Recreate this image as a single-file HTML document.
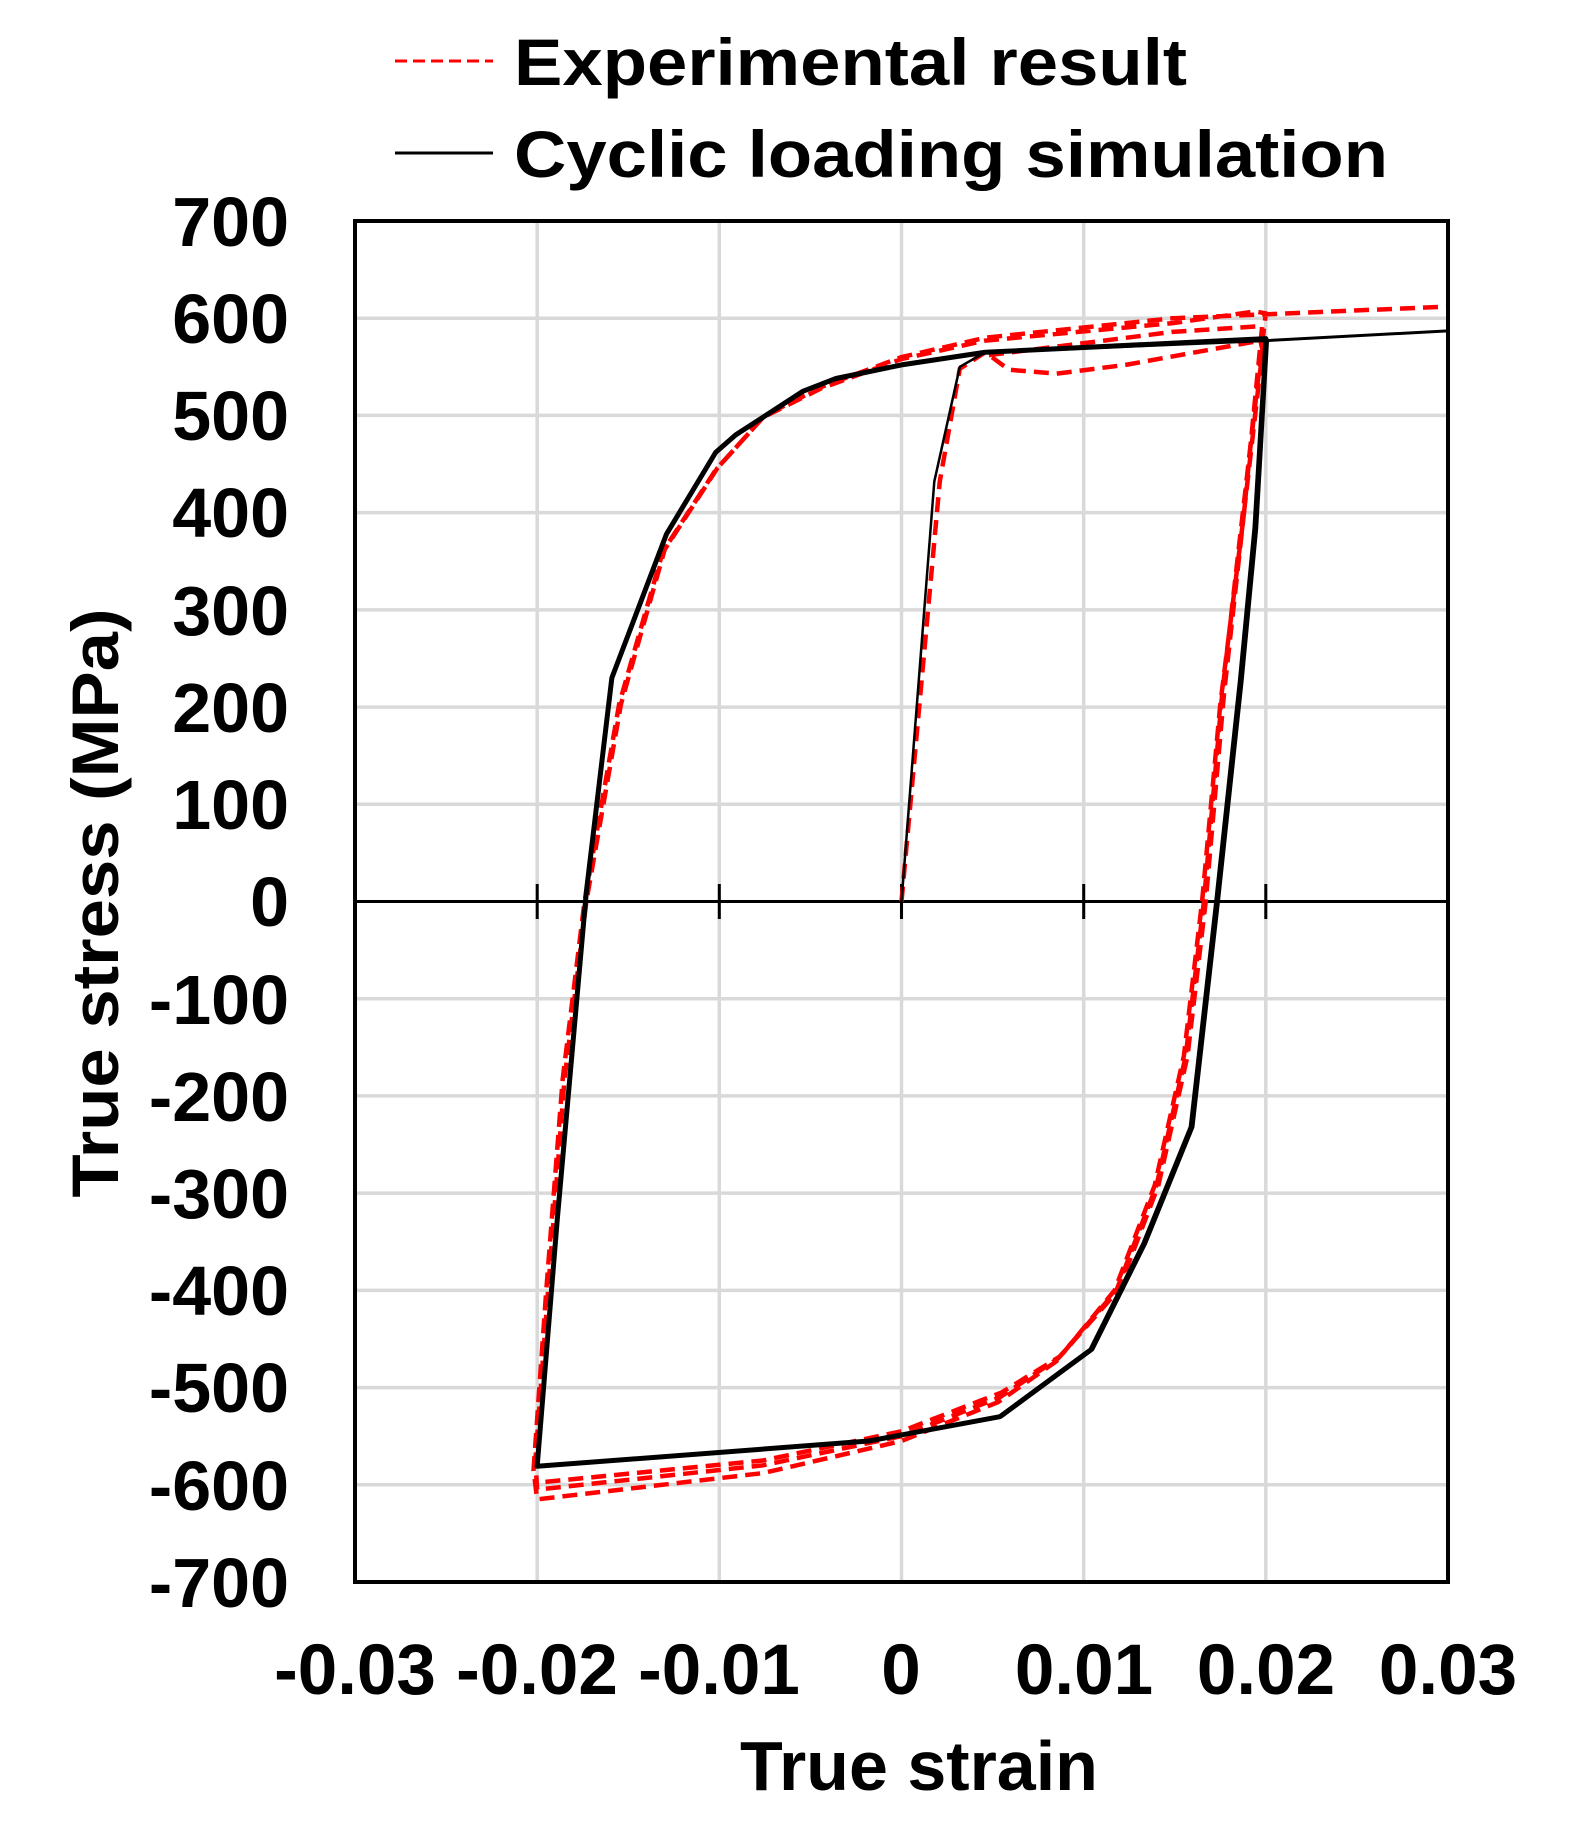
<!DOCTYPE html>
<html><head><meta charset="utf-8"><style>
html,body{margin:0;padding:0;background:#fff}
svg{display:block}
text{font-family:"Liberation Sans",Arial,sans-serif;font-weight:bold;fill:#000}
</style></head><body>
<svg width="1584" height="1839" viewBox="0 0 1584 1839" xmlns="http://www.w3.org/2000/svg">
<rect width="1584" height="1839" fill="#fff"/>
<g stroke="#d9d9d9" stroke-width="3.5">
<line x1="537.2" y1="221" x2="537.2" y2="1582"/>
<line x1="719.3" y1="221" x2="719.3" y2="1582"/>
<line x1="901.5" y1="221" x2="901.5" y2="1582"/>
<line x1="1083.7" y1="221" x2="1083.7" y2="1582"/>
<line x1="1265.8" y1="221" x2="1265.8" y2="1582"/>
<line x1="355" y1="318.2" x2="1448" y2="318.2"/>
<line x1="355" y1="415.4" x2="1448" y2="415.4"/>
<line x1="355" y1="512.6" x2="1448" y2="512.6"/>
<line x1="355" y1="609.9" x2="1448" y2="609.9"/>
<line x1="355" y1="707.1" x2="1448" y2="707.1"/>
<line x1="355" y1="804.3" x2="1448" y2="804.3"/>
<line x1="355" y1="998.7" x2="1448" y2="998.7"/>
<line x1="355" y1="1095.9" x2="1448" y2="1095.9"/>
<line x1="355" y1="1193.1" x2="1448" y2="1193.1"/>
<line x1="355" y1="1290.4" x2="1448" y2="1290.4"/>
<line x1="355" y1="1387.6" x2="1448" y2="1387.6"/>
<line x1="355" y1="1484.8" x2="1448" y2="1484.8"/>
</g>
<g stroke="#000" stroke-width="3">
<line x1="355" y1="901.5" x2="1448" y2="901.5"/>
<line x1="537.2" y1="884" x2="537.2" y2="919"/>
<line x1="719.3" y1="884" x2="719.3" y2="919"/>
<line x1="901.5" y1="884" x2="901.5" y2="919"/>
<line x1="1083.7" y1="884" x2="1083.7" y2="919"/>
<line x1="1265.8" y1="884" x2="1265.8" y2="919"/>
</g>
<svg x="355" y="221" width="1093" height="1361" viewBox="355 221 1093 1361" overflow="hidden">
<g transform="translate(901.5,901.5) scale(18217,-0.9721)" fill="none" stroke-linejoin="round">
<g stroke="#ff0000" stroke-width="4.5" stroke-dasharray="15 8">
<polyline vector-effect="non-scaling-stroke" points="0,0 0.0021,432 0.0032,548 0.0046,565 0.0059,547 0.0085,543 0.0123,552 0.0197,577 0.0199,560"/>
<polyline vector-effect="non-scaling-stroke" points="0.0199,580 0.0187,384 0.0175,203 0.0165,0 0.0155,-159 0.0139,-292 0.0117,-400 0.0085,-473 0.0053,-515 0,-555 -0.0076,-588 -0.02,-615 -0.0202,-585 -0.0195,-400 -0.0186,-183 -0.0174,0 -0.0155,203 -0.0131,360 -0.0102,444 -0.0076,498 -0.0044,528 0,558 0.0046,577 0.0149,595 0.0194,607 0.02,605 0.0199,590 0.0187,394 0.0176,213 0.0166,0 0.0156,-159 0.0140,-292 0.0118,-400 0.0086,-470 0.0054,-510 0,-550 -0.0076,-580 -0.02,-605 -0.0201,-575 -0.0194,-400 -0.0185,-183 -0.0173,0 -0.0154,203 -0.0130,362 -0.0101,446 -0.0075,500 -0.0043,530 0,560 0.0046,580 0.0149,600 0.03,612"/>
<polyline vector-effect="non-scaling-stroke" points="0.0048,562 0.0149,586 0.0198,592 0.0188,400 0.0177,213 0.0167,0 0.0157,-159 0.0141,-292 0.0119,-400 0.0087,-468 0.0055,-505 0,-545 -0.0076,-575 -0.0201,-598"/>
</g>
<polyline stroke="#000" stroke-width="2.5" vector-effect="non-scaling-stroke" points="0,0 0.0018,432 0.0032,550 0.0046,565"/>
<polyline stroke="#000" stroke-width="5" vector-effect="non-scaling-stroke" points="0.0046,565 0.0200,579 0.0199,540 0.0194,384 0.0186,227 0.0173,0 0.0159,-232 0.0133,-352 0.0104,-461 0.0054,-530 -0.0018,-555 -0.0200,-581 -0.0189,-328 -0.0173,10 -0.0159,230 -0.0129,378 -0.0102,462 -0.0091,480 -0.0054,525 -0.0036,538 0,552 0.0046,565"/>
<polyline stroke="#000" stroke-width="3" vector-effect="non-scaling-stroke" points="0.0046,565 0.0200,577 0.0300,587"/>
<polyline stroke="#000" stroke-width="3" vector-effect="non-scaling-stroke" points="0.0201,579 0.0195,384 0.0187,227 0.0174,0 0.0160,-232 0.0134,-352 0.0105,-461 0.0055,-530"/>
</g>
</svg>
<rect x="355" y="221" width="1093" height="1361" fill="none" stroke="#000" stroke-width="4"/>
<g font-size="70" text-anchor="end">
<text x="289" y="246">700</text>
<text x="289" y="343">600</text>
<text x="289" y="440">500</text>
<text x="289" y="537">400</text>
<text x="289" y="635">300</text>
<text x="289" y="732">200</text>
<text x="289" y="829">100</text>
<text x="289" y="926">0</text>
<text x="289" y="1024">-100</text>
<text x="289" y="1121">-200</text>
<text x="289" y="1218">-300</text>
<text x="289" y="1315">-400</text>
<text x="289" y="1412">-500</text>
<text x="289" y="1510">-600</text>
<text x="289" y="1607">-700</text>
</g>
<g font-size="71" text-anchor="middle">
<text x="355" y="1694">-0.03</text>
<text x="537" y="1694">-0.02</text>
<text x="719" y="1694">-0.01</text>
<text x="901" y="1694">0</text>
<text x="1084" y="1694">0.01</text>
<text x="1266" y="1694">0.02</text>
<text x="1448" y="1694">0.03</text>
</g>
<text x="919" y="1790" font-size="70" text-anchor="middle">True strain</text>
<text transform="translate(118,903) rotate(-90)" font-size="66" text-anchor="middle" textLength="589" lengthAdjust="spacingAndGlyphs">True stress (MPa)</text>
<line x1="395" y1="61" x2="493" y2="61" stroke="#ff0000" stroke-width="3" stroke-dasharray="12 6"/>
<text x="514" y="85" font-size="66" textLength="673" lengthAdjust="spacingAndGlyphs">Experimental result</text>
<line x1="395" y1="153" x2="493" y2="153" stroke="#000" stroke-width="3"/>
<text x="514" y="177" font-size="66" textLength="874" lengthAdjust="spacingAndGlyphs">Cyclic loading simulation</text>
</svg>
</body></html>
